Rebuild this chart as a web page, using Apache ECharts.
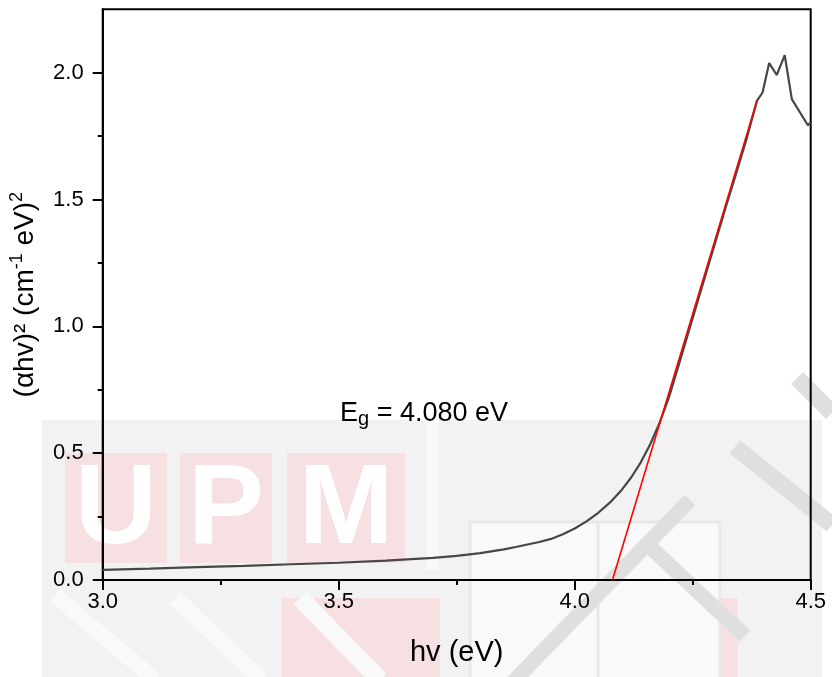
<!DOCTYPE html>
<html>
<head>
<meta charset="utf-8">
<script src="https://cdn.jsdelivr.net/npm/echarts@6/dist/echarts.min.js"></script>
<style>
  html, body { margin: 0; padding: 0; background: #ffffff; }
  #chart { width: 832px; height: 677px; }
</style>
</head>
<body>
<div id="chart"></div>
<script>
// Photon energy hv (eV)
const hv = [
  3.00, 3.10, 3.20, 3.30, 3.40, 3.50, 3.60, 3.70, 3.75, 3.80, 3.85, 3.875,
  3.90, 3.925, 3.95, 3.975, 4.00, 4.025, 4.05, 4.075, 4.10, 4.12, 4.14, 4.16,
  4.18, 4.20, 4.22, 4.24, 4.26, 4.28, 4.30, 4.32, 4.34, 4.364,
  4.386, 4.398, 4.412, 4.428, 4.445, 4.460, 4.494, 4.500
];
// (αhv)² values
const ahv2 = [
  0.040, 0.045, 0.051, 0.056, 0.062, 0.068, 0.076, 0.087, 0.095, 0.106, 0.121, 0.130,
  0.140, 0.150, 0.162, 0.180, 0.203, 0.231, 0.265, 0.306, 0.356, 0.405, 0.464, 0.535,
  0.620, 0.722, 0.845, 0.970, 1.095, 1.220, 1.345, 1.470, 1.590, 1.738,
  1.889, 1.922, 2.038, 1.991, 2.069, 1.896, 1.793, 1.805
];
// Linear fit of the absorption edge: intercept Eg, upper end of the fitted range
const bandGap = 4.080;
const fitEnd = [4.386, 1.889];
const fitLine = [[bandGap, 0], fitEnd];

// Axis ticks
const xMajor = [3.0, 3.5, 4.0, 4.5];
const xMinor = [3.25, 3.75, 4.25];
const yMajor = [0.0, 0.5, 1.0, 1.5, 2.0];
const yMinor = [0.25, 0.75, 1.25, 1.75];

const FONT = 'Liberation Sans, Arial, sans-serif';
const chart = echarts.init(document.getElementById('chart'), null, { renderer: 'canvas' });

const curve = hv.map((x, i) => [x, ahv2[i]]);

// Institutional watermark underneath the plot
const WM_GRAY = '#f2f2f2';
const WM_PINK = '#f6e0e1';
const WM_BAND = '#dfdfdf';
const WM_LIGHT = '#f9f9f9';
const watermark = [
  { type: 'rect', z: -10, shape: { x: 42, y: 420, width: 780, height: 257 }, style: { fill: WM_GRAY } },
  { type: 'rect', z: -9, shape: { x: 426, y: 420, width: 13, height: 150 }, style: { fill: WM_LIGHT } },
  { type: 'rect', z: -9, shape: { x: 65, y: 453, width: 102, height: 110 }, style: { fill: WM_PINK } },
  { type: 'rect', z: -9, shape: { x: 180, y: 453, width: 92, height: 110 }, style: { fill: WM_PINK } },
  { type: 'rect', z: -9, shape: { x: 287, y: 453, width: 118, height: 110 }, style: { fill: WM_PINK } },
  { type: 'rect', z: -9, shape: { x: 282, y: 598, width: 158, height: 79 }, style: { fill: WM_PINK } },
  { type: 'rect', z: -9, shape: { x: 684, y: 598, width: 54, height: 79 }, style: { fill: WM_PINK } },
  { type: 'text', z: -8, style: { x: 116, y: 512, text: 'U', fill: '#ffffff', font: 'bold 114px ' + FONT, textAlign: 'center', textVerticalAlign: 'middle' } },
  { type: 'text', z: -8, style: { x: 226, y: 512, text: 'P', fill: '#ffffff', font: 'bold 114px ' + FONT, textAlign: 'center', textVerticalAlign: 'middle' } },
  { type: 'text', z: -8, style: { x: 346, y: 512, text: 'M', fill: '#ffffff', font: 'bold 114px ' + FONT, textAlign: 'center', textVerticalAlign: 'middle' } },
  { type: 'line', z: -8, shape: { x1: 55, y1: 595, x2: 155, y2: 680 }, style: { stroke: WM_LIGHT, lineWidth: 16 } },
  { type: 'line', z: -8, shape: { x1: 175, y1: 598, x2: 262, y2: 680 }, style: { stroke: WM_LIGHT, lineWidth: 16 } },
  { type: 'line', z: -8, shape: { x1: 300, y1: 598, x2: 380, y2: 680 }, style: { stroke: WM_LIGHT, lineWidth: 18 } },
  { type: 'rect', z: -8, shape: { x: 470, y: 522, width: 250, height: 160 }, style: { fill: WM_LIGHT, stroke: '#e8e8e8', lineWidth: 3 } },
  { type: 'line', z: -8, shape: { x1: 598, y1: 522, x2: 598, y2: 677 }, style: { stroke: '#e8e8e8', lineWidth: 3 } },
  { type: 'line', z: -7, shape: { x1: 690, y1: 500, x2: 505, y2: 690 }, style: { stroke: WM_BAND, lineWidth: 15 } },
  { type: 'line', z: -7, shape: { x1: 648, y1: 545, x2: 745, y2: 636 }, style: { stroke: WM_BAND, lineWidth: 15 } },
  { type: 'line', z: -7, shape: { x1: 735, y1: 447, x2: 832, y2: 525 }, style: { stroke: WM_BAND, lineWidth: 17 } },
  { type: 'line', z: -7, shape: { x1: 797, y1: 378, x2: 832, y2: 413 }, style: { stroke: WM_BAND, lineWidth: 17 } }
];

const tickLabel = { fontFamily: FONT, fontSize: 22, color: '#000' };
const fmt = v => v.toFixed(1);

const option = {
  animation: false,
  backgroundColor: '#ffffff',
  grid: {
    left: 102.7, right: 21.3, top: 9.3, bottom: 97,
    show: true, borderColor: '#000', borderWidth: 2, backgroundColor: 'transparent'
  },
  xAxis: [
    {
      type: 'value', min: 3.0, max: 4.5, interval: 0.5,
      name: 'hv (eV)', nameLocation: 'middle', nameGap: 58,
      nameTextStyle: { fontFamily: FONT, fontSize: 29, color: '#000' },
      axisLine: { show: true, onZero: false, lineStyle: { color: '#000', width: 2 } },
      axisTick: { show: true, inside: false, length: 10, customValues: xMajor, lineStyle: { color: '#000', width: 2 } },
      axisLabel: Object.assign({ margin: 11, customValues: xMajor, formatter: fmt }, tickLabel),
      splitLine: { show: false }
    },
    {
      type: 'value', min: 3.0, max: 4.5, position: 'bottom',
      axisLine: { show: false },
      axisTick: { show: true, inside: false, length: 5, customValues: xMinor, lineStyle: { color: '#000', width: 2 } },
      axisLabel: { show: false },
      splitLine: { show: false }
    }
  ],
  yAxis: [
    {
      type: 'value', min: 0, max: 2.25,
      name: '(αhv)² (cm{sup|-1} eV){sup|2}', nameLocation: 'middle', nameGap: 56, nameRotate: 90,
      nameTextStyle: {
        fontFamily: FONT, fontSize: 28, color: '#000', lineHeight: 34,
        rich: { sup: { fontFamily: FONT, fontSize: 18, color: '#000', lineHeight: 18, verticalAlign: 'top' } }
      },
      axisLine: { show: true, onZero: false, lineStyle: { color: '#000', width: 2 } },
      axisTick: { show: true, inside: false, length: 10, customValues: yMajor, lineStyle: { color: '#000', width: 2 } },
      axisLabel: Object.assign({ margin: 19, customValues: yMajor, formatter: fmt }, tickLabel),
      splitLine: { show: false }
    },
    {
      type: 'value', min: 0, max: 2.25, position: 'left',
      axisLine: { show: false },
      axisTick: { show: true, inside: false, length: 5, customValues: yMinor, lineStyle: { color: '#000', width: 2 } },
      axisLabel: { show: false },
      splitLine: { show: false }
    }
  ],
  graphic: watermark.concat([
    {
      type: 'text', z: 50, left: 340, top: 399,
      style: {
        text: 'E{sub|g} = ' + bandGap.toFixed(3) + ' eV',
        fill: '#000', fontFamily: FONT, fontSize: 27, lineHeight: 30,
        rich: { sub: { fontFamily: FONT, fontSize: 20, fill: '#000', lineHeight: 6, verticalAlign: 'bottom' } }
      }
    }
  ]),
  series: [
    {
      type: 'line', xAxisIndex: 0, yAxisIndex: 0, data: curve,
      showSymbol: false, symbol: 'none', smooth: false, z: 3,
      lineStyle: { color: '#474747', width: 2.2 }
    },
    {
      type: 'line', xAxisIndex: 0, yAxisIndex: 0, data: fitLine,
      showSymbol: false, symbol: 'none', z: 4,
      lineStyle: { color: '#ff0000', width: 1.6 }
    }
  ]
};

chart.setOption(option);
</script>
</body>
</html>
